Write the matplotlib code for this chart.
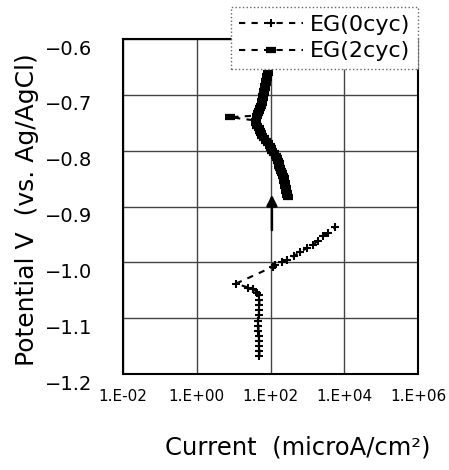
import numpy as np
import matplotlib.pyplot as plt
from matplotlib.transforms import ScaledTranslation

# EG(0cyc): cathodic column, corrosion point, anodic branch
cur_0cyc = [50, 50, 49, 49, 48, 47, 47, 47, 48, 49, 50, 50, 49, 43, 34, 25, 11.5,
            114, 132, 200, 275, 420, 630, 950, 1450, 1950, 2700, 3600, 5600]
pot_0cyc = [-1.167, -1.158, -1.149, -1.140, -1.131, -1.122, -1.113, -1.104, -1.095,
            -1.086, -1.077, -1.068, -1.059, -1.054, -1.047, -1.045, -1.038,
            -1.008, -1.005, -0.999, -0.996, -0.989, -0.981, -0.975, -0.968,
            -0.961, -0.953, -0.947, -0.937]

# EG(2cyc): dense band of points
cur_2cyc = [296, 287, 278, 270, 261, 254, 246, 238, 231, 218, 204, 192, 180, 175,
            169, 160, 149, 137, 124, 113, 103, 94, 85, 75, 66, 60, 55, 52, 49, 44,
            40, 40, 8, 42, 46, 49, 52, 55, 58, 60, 62, 64, 66, 68, 70, 72, 75, 77,
            80, 82, 85]
pot_2cyc = [-0.883, -0.879, -0.876, -0.872, -0.867, -0.863, -0.858, -0.854, -0.849,
            -0.845, -0.840, -0.836, -0.831, -0.827, -0.822, -0.818, -0.813, -0.809,
            -0.804, -0.800, -0.796, -0.791, -0.787, -0.782, -0.778, -0.773, -0.769,
            -0.764, -0.760, -0.755, -0.751, -0.746, -0.740, -0.737, -0.733, -0.728,
            -0.724, -0.720, -0.715, -0.711, -0.706, -0.702, -0.697, -0.693, -0.688,
            -0.684, -0.679, -0.675, -0.670, -0.666, -0.661]

xticks = [1e-2, 1e0, 1e2, 1e4, 1e6]
xtick_labels = ['1.E-02', '1.E+00', '1.E+02', '1.E+04', '1.E+06']
yticks = [-1.2, -1.1, -1.0, -0.9, -0.8, -0.7, -0.6]

fig = plt.figure(figsize=(4.49, 4.70), dpi=100)
ax = fig.add_axes([0.274, 0.204, 0.657, 0.713])

ax.plot(cur_0cyc, pot_0cyc, color='black', linestyle=(0, (3, 3)), lw=1.5,
        marker='+', markersize=6, markeredgewidth=1.5, label='EG(0cyc)')
ax.plot(cur_2cyc, pot_2cyc, color='black', linestyle=(0, (3, 3)), lw=1.5,
        marker='_', markersize=7.5, markeredgewidth=4.5, label='EG(2cyc)')

# arrow marking the shift
ax.annotate('', xy=(109, -0.874), xytext=(109, -0.947),
            arrowprops=dict(arrowstyle='-|>', color='black', lw=1.8, mutation_scale=16))

ax.set_xscale('log')
ax.set_xlim(1e-2, 1e6)
ax.set_ylim(-1.2, -0.6)
ax.set_xticks(xticks)
ax.set_xticklabels(xtick_labels)
ax.minorticks_off()
ax.set_yticks(yticks)
ax.set_yticklabels(['\u22121.2', '\u22121.1', '\u22121.0', '\u22120.9', '\u22120.8', '\u22120.7', '\u22120.6'])
ax.tick_params(axis='x', length=0, pad=11, labelsize=11)
ax.tick_params(axis='y', length=0, pad=22, labelsize=14)
for lab in ax.get_yticklabels():
    lab.set_transform(lab.get_transform() + ScaledTranslation(0, -0.08, fig.dpi_scale_trans))

ax.grid(True, color='#444444', lw=1)
for s in ax.spines.values():
    s.set_linewidth(1.5)

fig.text(298 / 449, 1 - 447 / 470, 'Current  (microA/cm\u00b2)', ha='center', va='center', fontsize=17.5)
fig.text(27 / 449, 1 - 210 / 470, 'Potential V  (vs. Ag/AgCl)', ha='center', va='center',
         rotation=90, fontsize=18)

leg = ax.legend(loc='upper right', bbox_to_anchor=(418 / 449, 1 - 7 / 470),
                bbox_transform=fig.transFigure, borderaxespad=0, fontsize=16,
                handlelength=2.9, handletextpad=0.3, labelspacing=0.3,
                borderpad=0.35, fancybox=False, framealpha=1)
leg.get_frame().set_linestyle(':')
leg.get_frame().set_edgecolor('#666666')
leg.get_frame().set_linewidth(1)

fig.savefig('out.png', dpi=100)
